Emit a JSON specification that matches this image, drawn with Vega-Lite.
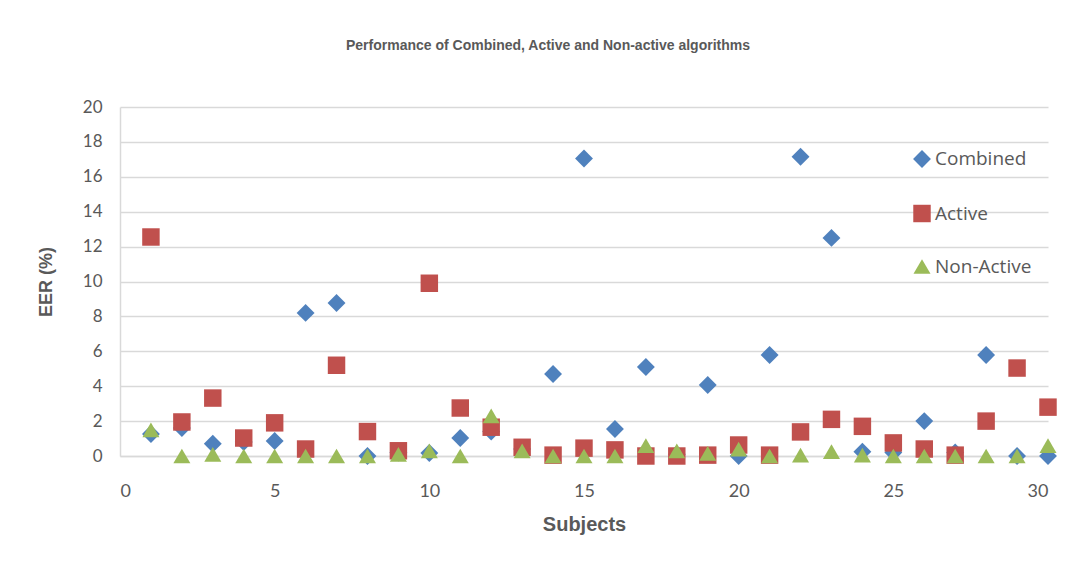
{
  "$schema": "https://vega.github.io/schema/vega-lite/v6.json",
  "width": 928,
  "height": 349,
  "autosize": "none",
  "padding": {"left": 120, "top": 107, "right": 39, "bottom": 126},
  "background": "white",
  "title": {
    "text": "Performance of Combined, Active and Non-active algorithms",
    "fontSize": 14,
    "font": "Liberation Sans",
    "fontWeight": "bold",
    "color": "#595959",
    "anchor": "middle",
    "dx": -36,
    "offset": 45
  },
  "config": {
    "view": {"stroke": null},
    "axis": {
      "labelFont": "Lato",
      "labelColor": "#595959",
      "labelFontSize": 17,
      "titleFont": "Liberation Sans",
      "titleColor": "#595959",
      "titleFontWeight": "bold",
      "domainColor": "#d9d9d9",
      "domainWidth": 1.5,
      "gridColor": "#d9d9d9",
      "gridWidth": 1.5,
      "ticks": false
    }
  },
  "data": {
    "values": [
      {"subject": 1, "series": "Combined", "eer": 1.26},
      {"subject": 2, "series": "Combined", "eer": 1.6},
      {"subject": 3, "series": "Combined", "eer": 0.7},
      {"subject": 4, "series": "Combined", "eer": 0.8},
      {"subject": 5, "series": "Combined", "eer": 0.86},
      {"subject": 6, "series": "Combined", "eer": 8.2},
      {"subject": 7, "series": "Combined", "eer": 8.77},
      {"subject": 8, "series": "Combined", "eer": 0.0},
      {"subject": 9, "series": "Combined", "eer": 0.2},
      {"subject": 10, "series": "Combined", "eer": 0.17},
      {"subject": 11, "series": "Combined", "eer": 1.03},
      {"subject": 12, "series": "Combined", "eer": 1.4},
      {"subject": 13, "series": "Combined", "eer": 0.4},
      {"subject": 14, "series": "Combined", "eer": 4.7},
      {"subject": 15, "series": "Combined", "eer": 17.05},
      {"subject": 16, "series": "Combined", "eer": 1.55},
      {"subject": 17, "series": "Combined", "eer": 5.1},
      {"subject": 18, "series": "Combined", "eer": 0.1},
      {"subject": 19, "series": "Combined", "eer": 4.07},
      {"subject": 20, "series": "Combined", "eer": 0.0},
      {"subject": 21, "series": "Combined", "eer": 5.79},
      {"subject": 22, "series": "Combined", "eer": 17.15},
      {"subject": 23, "series": "Combined", "eer": 12.5},
      {"subject": 24, "series": "Combined", "eer": 0.25},
      {"subject": 25, "series": "Combined", "eer": 0.2},
      {"subject": 26, "series": "Combined", "eer": 2.0},
      {"subject": 27, "series": "Combined", "eer": 0.2},
      {"subject": 28, "series": "Combined", "eer": 5.79},
      {"subject": 29, "series": "Combined", "eer": 0.0},
      {"subject": 30, "series": "Combined", "eer": 0.0},
      {"subject": 1, "series": "Active", "eer": 12.55},
      {"subject": 2, "series": "Active", "eer": 1.95},
      {"subject": 3, "series": "Active", "eer": 3.32},
      {"subject": 4, "series": "Active", "eer": 1.03},
      {"subject": 5, "series": "Active", "eer": 1.9},
      {"subject": 6, "series": "Active", "eer": 0.4},
      {"subject": 7, "series": "Active", "eer": 5.2},
      {"subject": 8, "series": "Active", "eer": 1.4},
      {"subject": 9, "series": "Active", "eer": 0.3},
      {"subject": 10, "series": "Active", "eer": 9.9},
      {"subject": 11, "series": "Active", "eer": 2.75},
      {"subject": 12, "series": "Active", "eer": 1.65},
      {"subject": 13, "series": "Active", "eer": 0.5},
      {"subject": 14, "series": "Active", "eer": 0.05},
      {"subject": 15, "series": "Active", "eer": 0.45},
      {"subject": 16, "series": "Active", "eer": 0.35},
      {"subject": 17, "series": "Active", "eer": 0.0},
      {"subject": 18, "series": "Active", "eer": 0.0},
      {"subject": 19, "series": "Active", "eer": 0.05},
      {"subject": 20, "series": "Active", "eer": 0.63},
      {"subject": 21, "series": "Active", "eer": 0.05},
      {"subject": 22, "series": "Active", "eer": 1.38},
      {"subject": 23, "series": "Active", "eer": 2.1},
      {"subject": 24, "series": "Active", "eer": 1.7},
      {"subject": 25, "series": "Active", "eer": 0.75},
      {"subject": 26, "series": "Active", "eer": 0.4},
      {"subject": 27, "series": "Active", "eer": 0.05},
      {"subject": 28, "series": "Active", "eer": 2.0},
      {"subject": 29, "series": "Active", "eer": 5.04},
      {"subject": 30, "series": "Active", "eer": 2.8},
      {"subject": 1, "series": "Non-Active", "eer": 1.5},
      {"subject": 2, "series": "Non-Active", "eer": 0.0},
      {"subject": 3, "series": "Non-Active", "eer": 0.1},
      {"subject": 4, "series": "Non-Active", "eer": 0.0},
      {"subject": 5, "series": "Non-Active", "eer": 0.0},
      {"subject": 6, "series": "Non-Active", "eer": 0.0},
      {"subject": 7, "series": "Non-Active", "eer": 0.0},
      {"subject": 8, "series": "Non-Active", "eer": 0.0},
      {"subject": 9, "series": "Non-Active", "eer": 0.1},
      {"subject": 10, "series": "Non-Active", "eer": 0.3},
      {"subject": 11, "series": "Non-Active", "eer": 0.0},
      {"subject": 12, "series": "Non-Active", "eer": 2.3},
      {"subject": 13, "series": "Non-Active", "eer": 0.3},
      {"subject": 14, "series": "Non-Active", "eer": 0.0},
      {"subject": 15, "series": "Non-Active", "eer": 0.0},
      {"subject": 16, "series": "Non-Active", "eer": 0.0},
      {"subject": 17, "series": "Non-Active", "eer": 0.6},
      {"subject": 18, "series": "Non-Active", "eer": 0.3},
      {"subject": 19, "series": "Non-Active", "eer": 0.15},
      {"subject": 20, "series": "Non-Active", "eer": 0.4},
      {"subject": 21, "series": "Non-Active", "eer": 0.0},
      {"subject": 22, "series": "Non-Active", "eer": 0.05},
      {"subject": 23, "series": "Non-Active", "eer": 0.25},
      {"subject": 24, "series": "Non-Active", "eer": 0.05},
      {"subject": 25, "series": "Non-Active", "eer": 0.0},
      {"subject": 26, "series": "Non-Active", "eer": 0.0},
      {"subject": 27, "series": "Non-Active", "eer": 0.0},
      {"subject": 28, "series": "Non-Active", "eer": 0.0},
      {"subject": 29, "series": "Non-Active", "eer": 0.0},
      {"subject": 30, "series": "Non-Active", "eer": 0.6}
    ]
  },
  "mark": {"type": "point", "filled": true, "opacity": 1, "clip": false},
  "encoding": {
    "x": {
      "field": "subject",
      "type": "quantitative",
      "scale": {"domain": [0, 30], "nice": false},
      "axis": {
        "values": [0, 5, 10, 15, 20, 25, 30],
        "grid": false,
        "title": "Subjects",
        "titleFontSize": 20,
        "labelFontSize": 18,
        "labelPadding": 26,
        "titlePadding": 14
      }
    },
    "y": {
      "field": "eer",
      "type": "quantitative",
      "scale": {"domain": [0, 20], "nice": false},
      "axis": {
        "values": [0, 2, 4, 6, 8, 10, 12, 14, 16, 18, 20],
        "title": "EER (%)",
        "titleFontSize": 18,
        "labelPadding": 18,
        "titlePadding": 27
      }
    },
    "color": {
      "field": "series",
      "type": "nominal",
      "scale": {"domain": ["Combined", "Active", "Non-Active"], "range": ["#4F81BD", "#C0504D", "#9BBB59"]},
      "legend": {
        "title": null,
        "orient": "none",
        "legendX": 792,
        "legendY": 42,
        "labelFont": "Open Sans",
        "labelFontSize": 19,
        "labelColor": "#595959",
        "labelOffset": 3,
        "rowPadding": 30,
        "symbolOpacity": 1
      }
    },
    "shape": {
      "field": "series",
      "type": "nominal",
      "scale": {"domain": ["Combined", "Active", "Non-Active"], "range": ["diamond", "square", "triangle-up"]}
    },
    "size": {
      "field": "series",
      "type": "nominal",
      "scale": {"domain": ["Combined", "Active", "Non-Active"], "range": [320, 290, 620]}
    }
  }
}
